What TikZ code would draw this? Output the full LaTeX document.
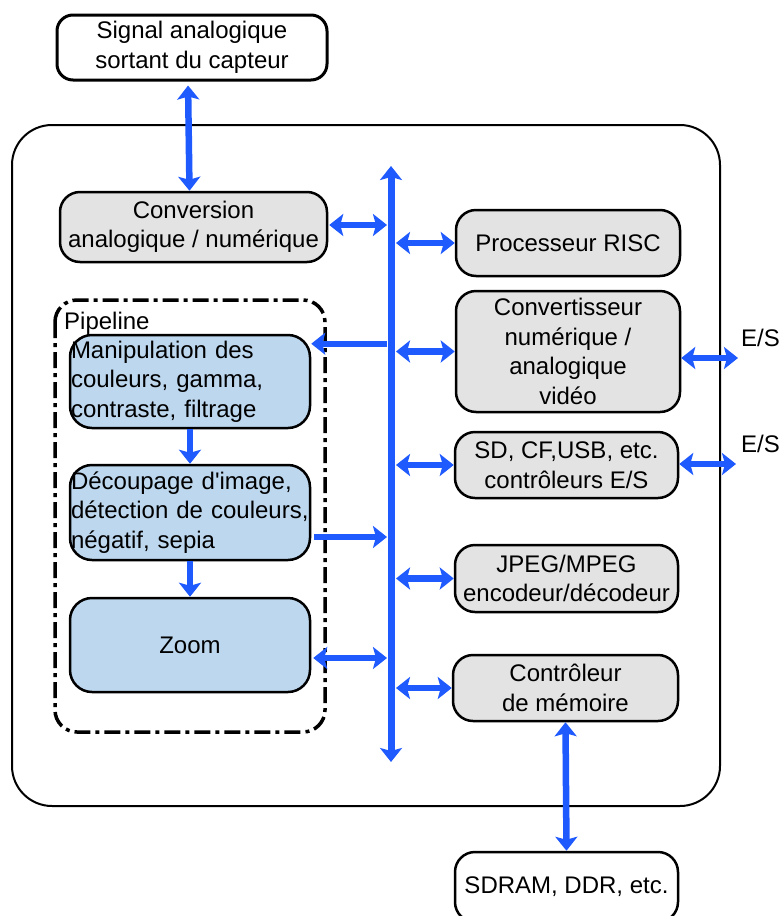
\documentclass[tikz,border=0pt]{standalone}
\usepackage{fontspec}
\setmainfont{Liberation Sans}
\usetikzlibrary{positioning,arrows.meta}
\definecolor{busblue}{RGB}{31,90,255}
\definecolor{boxgray}{RGB}{227,227,227}
\definecolor{pipeblue}{RGB}{189,215,238}

\begin{document}
\begin{tikzpicture}[x=1pt,y=-1pt,
  every node/.style={font=\fontsize{24}{29.5}\selectfont, inner sep=0pt},
  whitebox/.style={draw, line width=3pt, rounded corners=16pt, fill=white, align=center},
  graybox/.style={draw, line width=2.5pt, rounded corners=20pt, fill=boxgray, align=center},
  bluebox/.style={draw, line width=2.5pt, rounded corners=22pt, fill=pipeblue, align=left,
    text width=238pt, inner xsep=1pt, minimum width=240pt},
  fleche/.style={busblue, line width=6.5pt, -{Stealth[length=14pt,width=22pt,inset=3pt]}},
  dfleche/.style={fleche, {Stealth[length=14pt,width=22pt,inset=3pt]}-{Stealth[length=14pt,width=22pt,inset=3pt]}}]
  \useasboundingbox (0,0) rectangle (780,916);
  % chip frame
  \draw[line width=2pt, rounded corners=40pt] (12,125) rectangle (720,806);
  % pipeline frame
  \draw[line width=3.5pt, rounded corners=22pt, dash pattern=on 16pt off 5pt on 4pt off 5pt]
    (55,300) rectangle (325,732);
  \node[anchor=west] (pipelbl) at (64,323) {Pipeline};
  % outside boxes
  \node[whitebox, minimum width=270pt, minimum height=65pt] (signal) at (192,47.5)
    {Signal analogique\\sortant du capteur};
  \begin{scope}
    \clip (0,0) rectangle (780,916);
    \node[graybox, fill=white, minimum width=223pt, minimum height=70pt] (sdram) at (566.5,887)
      {SDRAM, DDR, etc.};
  \end{scope}
  % boxes on the chip
  \node[graybox, minimum width=267pt, minimum height=70pt] (conv) at (193.5,227)
    {Conversion\\analogique / numérique};
  \node[graybox, minimum width=224pt, minimum height=66pt] (risc) at (568,243) {Processeur RISC};
  \node[graybox, minimum width=224pt, minimum height=121pt] (dac) at (568,351.5)
    {Convertisseur\\numérique /\\analogique\\vidéo};
  \node[graybox, minimum width=223pt, minimum height=66pt] (sdctl) at (566.5,465)
    {SD, CF,USB, etc.\\contrôleurs E/S};
  \node[graybox, minimum width=223pt, minimum height=67pt] (jpeg) at (566.5,578.5)
    {JPEG/MPEG\\encodeur/décodeur};
  \node[graybox, minimum width=225pt, minimum height=66pt] (memctl) at (565.5,688)
    {Contrôleur\\de mémoire};
  % pipeline stages
  \node[bluebox, minimum height=93pt] (manip) at (190,381.5)
    {Manipulation des\\couleurs, gamma,\\contraste, filtrage};
  \node[bluebox, minimum height=95pt] (decoup) at (190,512.5)
    {Découpage d\textquotesingle image,\\détection de couleurs,\\négatif, sepia};
  \node[bluebox, align=center, minimum height=94pt] (zoombox) at (190,645) {Zoom};
  % bus
  \coordinate (busTop) at (391,166);
  \coordinate (busBot) at (391,762);
  \coordinate (busL) at (387,0);
  \coordinate (busR) at (396,0);
  \draw[dfleche, line width=7pt] (busTop) -- (busBot);
  % connectors
  \draw[dfleche, shorten <=4pt] ([xshift=-4pt]signal.south) -- ([xshift=-4pt]conv.north);
  \coordinate (ioConv) at ([xshift=1pt,yshift=2pt]conv.east);
  \draw[dfleche] (ioConv) -- (busL |- ioConv);
  \foreach \b in {risc,dac,sdctl,jpeg,memctl}{
    \draw[dfleche] (busR |- \b.west) -- (\b.west);
  }
  \coordinate (es1) at (738,358);
  \coordinate (es2) at (736,464);
  \draw[dfleche] (dac.east |- es1) -- (es1);
  \draw[dfleche] (sdctl.east |- es2) -- (es2);
  \node[anchor=west] (eslbl1) at (741,338) {E/S};
  \node[anchor=west] (eslbl2) at (741,444) {E/S};
  \draw[dfleche] (memctl.south) -- (sdram.north);
  \coordinate (inManip) at ([yshift=-10pt]manip.north east);
  \coordinate (outDecoup) at ([xshift=3pt,yshift=-24.5pt]decoup.east);
  \coordinate (ioZoom) at ([xshift=2pt,yshift=-13pt]zoombox.east);
  \draw[fleche] (busL |- inManip) -- (inManip);
  \draw[fleche] (outDecoup) -- (busL |- outDecoup);
  \draw[dfleche] (ioZoom) -- (busL |- ioZoom);
  \draw[fleche] (manip.south) -- (decoup.north);
  \draw[fleche] (decoup.south) -- (zoombox.north);
\end{tikzpicture}
\end{document}
